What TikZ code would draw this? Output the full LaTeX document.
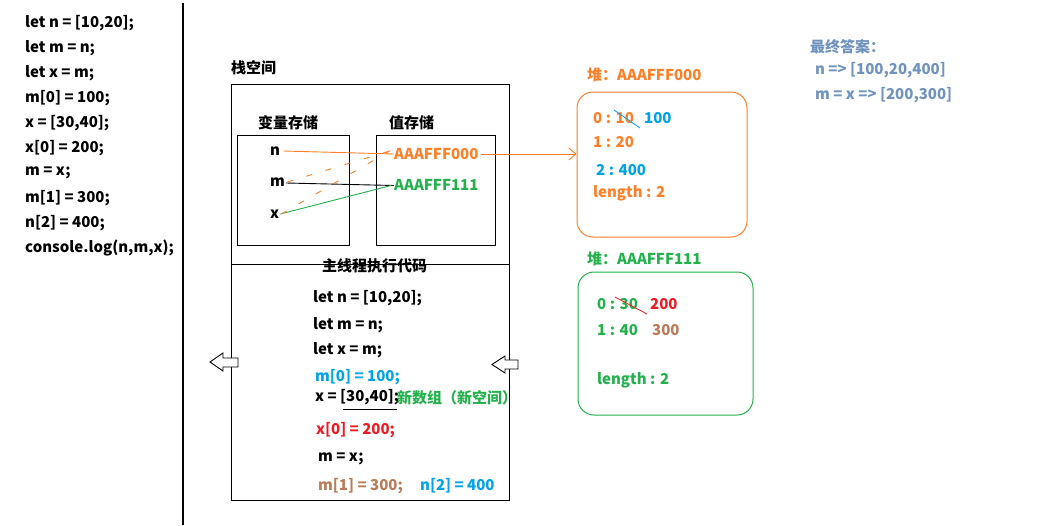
\documentclass[tikz,border=0pt]{standalone}
\usepackage{fontspec}
\setmainfont{Noto Sans CJK SC}
\usetikzlibrary{arrows.meta}
\definecolor{cor}{HTML}{FF7F27}
\definecolor{cgr}{HTML}{22B14C}
\definecolor{cbl}{HTML}{00A2E8}
\definecolor{cred}{HTML}{ED1C24}
\definecolor{cbr}{HTML}{B97A57}
\definecolor{csl}{HTML}{7092BE}
\begin{document}
\begin{tikzpicture}[x=1pt,y=-1pt,
  t/.style={anchor=west,inner sep=0pt,font=\fontsize{15}{17}\selectfont\bfseries},
  frame/.style={draw=black,line width=1pt},
  heap/.style={draw,line width=1pt,rounded corners=16pt,inner sep=0pt},
  ptr/.style={line width=0.9pt},
  dsh/.style={cor,line width=0.9pt,dash pattern=on 6pt off 14pt},
  blk/.style={draw=black,line width=0.9pt,fill=white}]
\useasboundingbox (0,0) rectangle (1039,525);
% left code
\foreach \s [count=\i] in {{let n = [10,20];}, {let m = n;}, {let x = m;}, {m[0] = 100;}, {x = [30,40];}, {x[0] = 200;}, {m = x;}, {m[1] = 300;}, {n[2] = 400;}, {console.log(n,m,x);}}
  \node[t] (c\i) at (25,{23+25*(\i-1)}) {\s};
\draw[line width=1.3pt] (183,3) -- (183,525);
% stack
\node[t] (stk) at (231,68) {栈空间};
\draw[frame] (231,84) rectangle (509,500);
\draw[frame] (231,264) -- (509,264);
\node[t] (main) at (322,266) {主线程执行代码};
\node[t] (vs) at (258,123) {变量存储};
\node[t] (zs) at (389,123) {值存储};
\draw[frame] (237,135) rectangle (349,245);
\draw[frame] (376,135) rectangle (495,245);
\node[t] (vn) at (270,151) {n};
\node[t] (vm) at (270,182) {m};
\node[t] (vx) at (270,214) {x};
\node[t,text=cor] (A0) at (394,154) {AAAFFF000};
\node[t,text=cgr] (A1) at (394,185) {AAAFFF111};
% heap
\node[heap,draw=cor,minimum width=170pt,minimum height=145pt] (H0) at (662,164.5) {};
\node[heap,draw=cgr,minimum width=175pt,minimum height=143pt] (H1) at (665.5,343.5) {};
\node[t,text=cor] (h0t) at (587,75) {堆：AAAFFF000};
\node[t,text=cgr] (h1t) at (587,259) {堆：AAAFFF111};
\node[t,text=cor] (e00) at (593,118) {0 : 10};
\node[t,text=cbl] (e00n) at (644,118) {100};
\draw[cbl,line width=0.8pt] (614,110) -- (640,128);
\node[t,text=cor] (e01) at (593,142) {1 : 20};
\node[t,text=cbl] (e02) at (596,170) {2 : 400};
\node[t,text=cor] (e0l) at (593,193) {length : 2};
\node[t,text=cgr] (e10) at (597,304) {0 : 30};
\node[t,text=cred] (e10n) at (650,304) {200};
\draw[cred,line width=0.8pt] (615,297) -- (647,314);
\node[t,text=cgr] (e11) at (597,330) {1 : 40};
\node[t,text=cbr] (e11n) at (652,330) {300};
\node[t,text=cgr] (e1l) at (597,380) {length : 2};
% connectors
\draw[ptr,cor] (vn.east) ++(3,0) -- (A0.west);
\draw[ptr,black] (vm.east) ++(1,1) -- ([yshift=-0.5pt]A1.west);
\draw[ptr,cgr] ([xshift=1pt]vx.east) -- ([xshift=-3pt,yshift=-0.5pt]A1.west);
\draw[dsh] ([xshift=2pt]vm.east) -- ([xshift=-1pt,yshift=4pt]A0.west);
\draw[dsh] ([xshift=2pt]vx.east) -- ([xshift=-1pt,yshift=5pt]A0.west);
\draw[ptr,cor,-{Straight Barb[length=7pt,width=12pt,line width=0.9pt]}] ([xshift=2pt]A0.east) -- (H0.west |- A0.east);
% main thread code
\node[t] (m1) at (313,298) {let n = [10,20];};
\node[t] (m2) at (313,325) {let m = n;};
\node[t] (m3) at (313,350) {let x = m;};
\node[t,text=cbl] (m4) at (315,377) {m[0] = 100;};
\node[t] (m5) at (315,397) {x = [30,40];};
\node[t,text=cgr] (m5b) at (397,398) {新数组（新空间）};
\draw[line width=0.9pt] (343,409) -- (397,409);
\node[t,text=cred] (m6) at (316,430) {x[0] = 200;};
\node[t] (m7) at (318,459) {m = x;};
\node[t,text=cbr] (m8) at (318,486) {m[1] = 300;};
\node[t,text=cbl] (m9) at (420,486) {n[2] = 400};
% block arrows
\draw[blk] (210,362) -- (223,353) -- (223,358) -- (238,358) -- (238,367) -- (223,367) -- (223,371) -- cycle;
\draw[blk] (492,364.5) -- (505,356) -- (505,360) -- (518,360) -- (518,369) -- (505,369) -- (505,373) -- cycle;
% answer
\node[t,text=csl] (ans) at (810,47) {最终答案：};
\node[t,text=csl] (a1) at (815,70) {n => [100,20,400]};
\node[t,text=csl] (a2) at (815,95) {m = x => [200,300]};
\end{tikzpicture}
\end{document}
